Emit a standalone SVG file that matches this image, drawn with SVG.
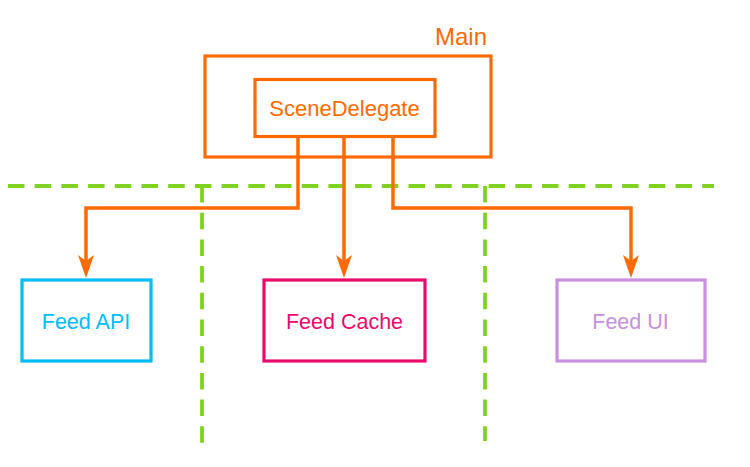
<svg xmlns="http://www.w3.org/2000/svg" width="750" height="467" viewBox="0 0 750 467">
  <style>
    .lbl { font-family: "Liberation Sans", Arial, sans-serif; text-anchor: middle; }
    .box { fill: #ffffff; stroke-width: 3.2; }
    .conn { fill: none; stroke: #FF6A00; stroke-width: 3.5; }
    .sep { fill: none; stroke: #7ED321; stroke-width: 3.8; stroke-dasharray: 16.5 10.2; }
  </style>
  <defs>
    <marker id="arrow" viewBox="0 0 23 16" markerWidth="23" markerHeight="16" refX="15" refY="8" orient="auto" markerUnits="userSpaceOnUse">
      <path d="M0,0 L23,8 L0,16 L6,8 Z" fill="#FF6A00"/>
    </marker>
  </defs>
  <rect width="750" height="467" fill="#ffffff"/>

  <g id="separators">
    <line class="sep" x1="8" y1="186" x2="714" y2="186"/>
    <line class="sep" x1="202" y1="186" x2="202" y2="444"/>
    <line class="sep" x1="485" y1="186" x2="485" y2="441"/>
  </g>

  <g id="main">
    <rect class="box" x="205" y="56" width="286" height="101" stroke="#FF6A00" fill="none"/>
    <text class="lbl" x="487" y="45" font-size="24" fill="#FF6A00" style="text-anchor:end">Main</text>
  </g>

  <g id="scene-delegate">
    <rect class="box" x="255" y="79.5" width="180" height="57" stroke="#FF6A00"/>
    <text class="lbl" x="344.5" y="116" font-size="22" fill="#FF6A00">SceneDelegate</text>
  </g>

  <g id="connectors">
    <path class="conn" d="M298,136 V208 H86 V270" marker-end="url(#arrow)"/>
    <path class="conn" d="M344,136 V270" marker-end="url(#arrow)"/>
    <path class="conn" d="M393,136 V208 H631 V270" marker-end="url(#arrow)"/>
  </g>

  <g id="feed-api">
    <rect class="box" x="22" y="280" width="129" height="81" stroke="#00BDFA"/>
    <text class="lbl" x="86" y="329" font-size="21.5" fill="#00BDFA">Feed API</text>
  </g>

  <g id="feed-cache">
    <rect class="box" x="264" y="280" width="161" height="81" stroke="#EB0A6C"/>
    <text class="lbl" x="344.5" y="329" font-size="21.5" fill="#EB0A6C">Feed Cache</text>
  </g>

  <g id="feed-ui">
    <rect class="box" x="557" y="280" width="148" height="81" stroke="#C88FE0"/>
    <text class="lbl" x="630.5" y="329" font-size="21.5" fill="#C88FE0">Feed UI</text>
  </g>
</svg>
